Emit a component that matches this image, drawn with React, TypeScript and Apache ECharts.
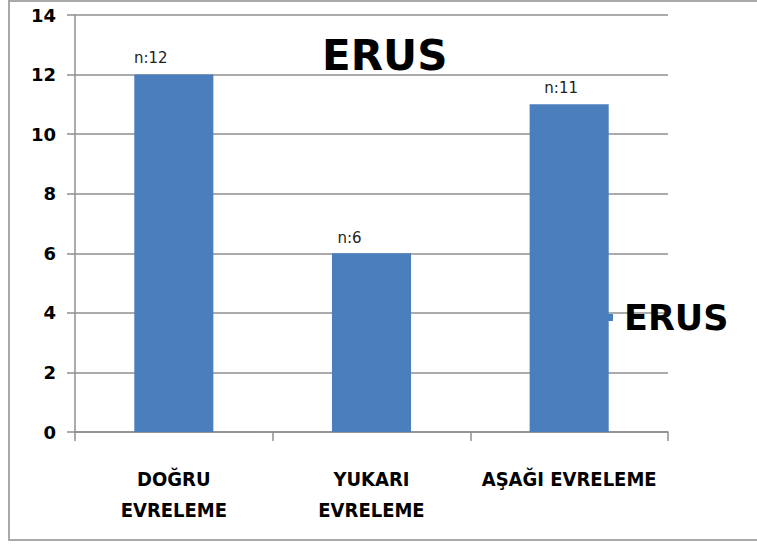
import React, { useEffect, useRef } from "react";
import * as echarts from "echarts";

// Chart content
const chartTitle = "ERUS";
const seriesName = "ERUS";
const categories = ["DOĞRU\nEVRELEME", "YUKARI\nEVRELEME", "AŞAĞI EVRELEME"];
const counts = [12, 6, 11];
const countLabels = ["n:12", "n:6", "n:11"];
const yTicks = { min: 0, max: 14, interval: 2 };

// Hand-placed label nudges (px), in category order
const labelNudges: [number, number][] = [
  [-23, -1],
  [-22, 0],
  [-8, -1],
];

const BAR = "#4A7EBD";
const GRID = "#8f8f8f";

export default function App() {
  const ref = useRef<HTMLDivElement>(null);

  useEffect(() => {
    if (!ref.current) return;
    const chart = echarts.init(ref.current, undefined, { renderer: "svg" });

    chart.setOption({
      animation: false,
      backgroundColor: "#ffffff",
      title: {
        text: chartTitle,
        left: 322,
        top: 34,
        padding: 0,
        textStyle: {
          fontFamily: "DejaVu Sans",
          fontWeight: "bold",
          fontSize: 42,
          color: "#000",
        },
      },
      legend: {
        data: [seriesName],
        orient: "vertical",
        left: 606,
        top: 300,
        padding: 0,
        itemWidth: 7,
        itemHeight: 7,
        icon: "rect",
        textStyle: {
          fontFamily: "DejaVu Sans",
          fontWeight: "bold",
          fontSize: 35,
          color: "#000",
          padding: [0, 0, 0, 6],
        },
      },
      graphic: [
        {
          type: "rect",
          shape: { x: 9, y: 1, width: 770, height: 539 },
          style: { fill: "none", stroke: "#a9a9a9", lineWidth: 2 },
          silent: true,
          z: -1,
        },
      ],
      grid: { left: 75, right: 89, top: 15, bottom: 113 },
      xAxis: {
        type: "category",
        data: categories,
        axisLine: { lineStyle: { color: GRID, width: 1.5 } },
        axisTick: { show: true, length: 9, lineStyle: { color: GRID, width: 1.5 } },
        axisLabel: {
          margin: 31,
          interval: 0,
          fontFamily: "'DejaVu Sans Condensed', 'Liberation Sans Narrow', 'DejaVu Sans'",
          fontWeight: "bold",
          fontSize: 20,
          lineHeight: 31,
          color: "#000",
          verticalAlign: "top",
        },
      },
      yAxis: {
        type: "value",
        min: yTicks.min,
        max: yTicks.max,
        interval: yTicks.interval,
        axisLine: { show: true, lineStyle: { color: GRID, width: 1.5 } },
        axisTick: { show: true, length: 8, lineStyle: { color: GRID, width: 1.5 } },
        splitLine: { show: true, lineStyle: { color: GRID, width: 1.5 } },
        axisLabel: {
          margin: 19,
          fontFamily: "DejaVu Sans",
          fontWeight: "bold",
          fontSize: 18,
          color: "#000",
        },
      },
      series: [
        {
          name: seriesName,
          type: "bar",
          barWidth: "40%",
          itemStyle: { color: BAR },
          data: counts.map((v, i) => ({
            value: v,
            label: {
              show: true,
              position: "top",
              distance: 8,
              offset: labelNudges[i],
              formatter: () => countLabels[i],
              fontFamily: "DejaVu Sans",
              fontSize: 15,
              color: "#222",
            },
          })),
        },
      ],
    });

    return () => chart.dispose();
  }, []);

  return (
    <div
      ref={ref}
      style={{ position: "absolute", left: 0, top: 0, width: 757, height: 545 }}
    />
  );
}
